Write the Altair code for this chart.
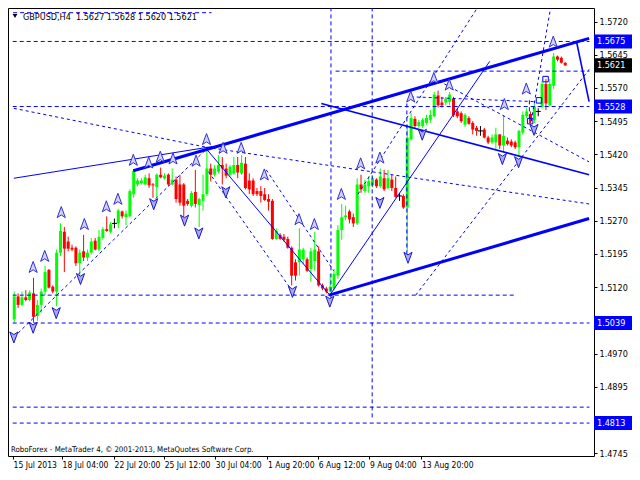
import altair as alt
import pandas as pd

# ---------------- candle data (GBPUSD H4) ----------------
opens = [1.5047,1.5099,1.5080,1.5097,1.5091,1.5106,1.5055,1.5080,1.5110,1.5159,
         1.5121,1.5110,1.5198,1.5245,1.5223,1.5209,1.5209,1.5174,1.5201,1.5187,
         1.5198,1.5225,1.5205,1.5231,1.5251,1.5245,1.5264,1.5264,1.5291,1.5278,
         1.5280,1.5330,1.5352,1.5355,1.5352,1.5366,1.5352,1.5346,1.5374,1.5366,
         1.5374,1.5352,1.5363,1.5352,1.5352,1.5315,1.5304,1.5335,1.5306,1.5315,
         1.5330,1.5388,1.5374,1.5381,1.5396,1.5388,1.5374,1.5377,1.5396,1.5377,
         1.5399,1.5361,1.5361,1.5337,1.5337,1.5330,1.5319,1.5315,1.5229,1.5238,
         1.5234,1.5229,1.5209,1.5176,1.5176,1.5183,1.5183,1.5161,1.5179,1.5201,
         1.5124,1.5117,1.5110,1.5117,1.5146,1.5249,1.5278,1.5291,1.5278,1.5264,
         1.5352,1.5337,1.5348,1.5350,1.5363,1.5348,1.5366,1.5344,1.5363,1.5344,
         1.5326,1.5326,1.5300,1.5454,1.5500,1.5484,1.5484,1.5491,1.5498,1.5506,
         1.5553,1.5537,1.5537,1.5539,1.5546,1.5517,1.5513,1.5487,1.5502,1.5491,
         1.5480,1.5473,1.5476,1.5458,1.5447,1.5447,1.5465,1.5440,1.5451,1.5449,
         1.5447,1.5436,1.5469,1.5506,1.5511,1.5498,1.5517,1.5528,1.5579,1.5531,
         1.5575,1.5641,1.5638,1.5627]
highs = [1.5110,1.5106,1.5110,1.5113,1.5113,1.5141,1.5091,1.5117,1.5168,1.5161,
         1.5124,1.5205,1.5264,1.5256,1.5234,1.5216,1.5212,1.5205,1.5238,1.5205,
         1.5231,1.5231,1.5249,1.5256,1.5280,1.5267,1.5275,1.5297,1.5293,1.5293,
         1.5341,1.5385,1.5366,1.5366,1.5374,1.5377,1.5355,1.5377,1.5390,1.5377,
         1.5377,1.5388,1.5370,1.5374,1.5355,1.5319,1.5337,1.5385,1.5322,1.5374,
         1.5432,1.5399,1.5396,1.5418,1.5414,1.5399,1.5396,1.5414,1.5414,1.5418,
         1.5414,1.5377,1.5366,1.5344,1.5348,1.5344,1.5330,1.5319,1.5253,1.5242,
         1.5240,1.5234,1.5212,1.5183,1.5253,1.5209,1.5187,1.5209,1.5245,1.5212,
         1.5128,1.5121,1.5150,1.5161,1.5260,1.5308,1.5304,1.5295,1.5286,1.5366,
         1.5374,1.5363,1.5370,1.5370,1.5366,1.5388,1.5385,1.5385,1.5374,1.5370,
         1.5333,1.5330,1.5487,1.5513,1.5506,1.5498,1.5502,1.5509,1.5520,1.5561,
         1.5564,1.5550,1.5550,1.5561,1.5550,1.5524,1.5517,1.5513,1.5506,1.5495,
         1.5484,1.5484,1.5480,1.5462,1.5465,1.5480,1.5465,1.5509,1.5458,1.5454,
         1.5451,1.5476,1.5517,1.5524,1.5517,1.5535,1.5524,1.5586,1.5590,1.5590,
         1.5649,1.5643,1.5641,1.5628]
lows = [1.5040,1.5073,1.5077,1.5088,1.5088,1.5040,1.5044,1.5062,1.5102,1.5117,
        1.5106,1.5077,1.5190,1.5154,1.5201,1.5201,1.5168,1.5146,1.5179,1.5179,
        1.5194,1.5203,1.5201,1.5227,1.5245,1.5242,1.5253,1.5253,1.5275,1.5260,
        1.5278,1.5322,1.5348,1.5352,1.5350,1.5344,1.5322,1.5322,1.5366,1.5363,
        1.5348,1.5350,1.5311,1.5304,1.5264,1.5304,1.5300,1.5300,1.5256,1.5293,
        1.5326,1.5359,1.5370,1.5377,1.5352,1.5366,1.5370,1.5374,1.5366,1.5374,
        1.5341,1.5330,1.5326,1.5326,1.5311,1.5315,1.5293,1.5227,1.5227,1.5227,
        1.5223,1.5207,1.5124,1.5135,1.5146,1.5172,1.5154,1.5132,1.5157,1.5121,
        1.5113,1.5106,1.5108,1.5113,1.5139,1.5227,1.5271,1.5264,1.5256,1.5260,
        1.5333,1.5333,1.5333,1.5346,1.5344,1.5344,1.5337,1.5341,1.5337,1.5322,
        1.5315,1.5297,1.5201,1.5451,1.5480,1.5480,1.5480,1.5487,1.5491,1.5504,
        1.5526,1.5526,1.5531,1.5531,1.5504,1.5502,1.5491,1.5482,1.5487,1.5465,
        1.5462,1.5462,1.5456,1.5443,1.5443,1.5432,1.5432,1.5425,1.5440,1.5436,
        1.5432,1.5414,1.5465,1.5502,1.5491,1.5491,1.5506,1.5524,1.5520,1.5528,
        1.5568,1.5630,1.5625,1.5620]
closes = [1.5099,1.5080,1.5097,1.5091,1.5108,1.5053,1.5080,1.5110,1.5154,1.5119,
          1.5110,1.5198,1.5247,1.5207,1.5207,1.5205,1.5174,1.5198,1.5187,1.5198,
          1.5223,1.5205,1.5234,1.5251,1.5247,1.5262,1.5264,1.5293,1.5280,1.5286,
          1.5337,1.5383,1.5361,1.5361,1.5368,1.5350,1.5350,1.5374,1.5368,1.5372,
          1.5352,1.5363,1.5319,1.5311,1.5304,1.5308,1.5333,1.5308,1.5319,1.5330,
          1.5388,1.5374,1.5388,1.5396,1.5388,1.5372,1.5392,1.5396,1.5379,1.5401,
          1.5344,1.5341,1.5330,1.5330,1.5326,1.5317,1.5313,1.5229,1.5247,1.5229,
          1.5227,1.5209,1.5146,1.5146,1.5205,1.5205,1.5157,1.5201,1.5205,1.5124,
          1.5117,1.5110,1.5121,1.5150,1.5249,1.5278,1.5282,1.5273,1.5264,1.5352,
          1.5341,1.5352,1.5359,1.5366,1.5348,1.5370,1.5341,1.5366,1.5344,1.5324,
          1.5326,1.5300,1.5458,1.5502,1.5484,1.5493,1.5498,1.5502,1.5509,1.5555,
          1.5531,1.5531,1.5546,1.5555,1.5509,1.5506,1.5495,1.5509,1.5489,1.5476,
          1.5473,1.5473,1.5458,1.5447,1.5458,1.5465,1.5440,1.5462,1.5443,1.5440,
          1.5436,1.5473,1.5509,1.5517,1.5495,1.5528,1.5517,1.5579,1.5535,1.5579,
          1.5641,1.5634,1.5627,1.5621]

# ---------------- axis ticks ----------------
xtick_pos = [-0.3, 12.4, 25.9, 38.9, 52.2, 65.7, 78.9, 92.2, 105.7]
xtick_lab = ["15 Jul 2013", "18 Jul 04:00", "22 Jul 20:00", "25 Jul 12:00", "30 Jul 04:00",
             "1 Aug 20:00", "6 Aug 12:00", "9 Aug 04:00", "13 Aug 20:00"]
ytick_vals = [1.5720, 1.5645, 1.5570, 1.5495, 1.5420, 1.5345, 1.5270, 1.5195,
              1.5120, 1.5045, 1.4970, 1.4895, 1.4820, 1.4745]
ytick_hidden = [1.5045, 1.4820]   # covered by the price tags

# ---------------- drawn objects ----------------
hl_price = [1.5740, 1.5675, 1.5608, 1.5528, 1.5102, 1.5039, 1.4849, 1.4813]
hl_from  = [-0.3, -0.4, 83.4, -0.4, -0.4, -0.4, -0.4, -0.4]
hl_to    = [51.2, 149.3, 149.3, 149.3, 130.4, 149.3, 149.3, 149.3]
vl_bar = [82.2, 92.9, 101.9, 133.7]
vl_top = [1.5752, 1.5752, 1.5535, 1.5542]
vl_bot = [1.5095, 1.4820, 1.5187, 1.5491]
thick_lines = [(30.9, 1.5383, 149.2, 1.5682), (81.7, 1.5102, 149.2, 1.5275)]
mid_lines   = [(79.7, 1.5535, 149.2, 1.5374), (145.9, 1.5676, 149.2, 1.5539)]
thin_lines  = [(-0.1, 1.5366, 51.7, 1.5438), (49.9, 1.5432, 81.9, 1.5102),
               (81.9, 1.5102, 123.4, 1.5630)]
dash_lines  = [(-0.1, 1.5524, 49.9, 1.5436), (49.9, 1.5436, 149.2, 1.5308),
               (-0.1, 1.5007, 49.9, 1.5432), (50.4, 1.5381, 72.9, 1.5102),
               (65.4, 1.5385, 82.9, 1.5157), (108.9, 1.5592, 149.2, 1.5403),
               (104.2, 1.5102, 149.2, 1.5612), (89.2, 1.5330, 120.2, 1.5751),
               (102.9, 1.5550, 135.4, 1.5539), (134.2, 1.5495, 139.2, 1.5751)]
up_bar   = [4.9, 7.9, 12.2, 18.2, 23.9, 26.9, 30.9, 34.9, 37.9, 41.2, 47.2, 49.9, 54.2,
            58.9, 64.9, 73.9, 77.9, 84.9, 89.9, 94.9, 102.9, 108.9, 112.9, 127.2, 132.9, 139.9]
up_price = [1.5165, 1.5190, 1.5289, 1.5262, 1.5302, 1.5319, 1.5407, 1.5401, 1.5414, 1.5410,
            1.5405, 1.5454, 1.5434, 1.5434, 1.5374, 1.5273, 1.5262, 1.5330, 1.5399, 1.5412,
            1.5550, 1.5592, 1.5577, 1.5533, 1.5568, 1.5674]
dn_bar   = [-0.1, 4.9, 10.9, 17.2, 36.2, 44.2, 47.9, 54.9, 72.2, 81.9, 94.9, 102.2,
            105.9, 126.7, 130.9, 134.9]
dn_price = [1.5007, 1.5029, 1.5062, 1.5139, 1.5308, 1.5271, 1.5242, 1.5335, 1.5110, 1.5088,
            1.5311, 1.5187, 1.5465, 1.5410, 1.5403, 1.5476]
sq_bar   = [133.9, 136.2, 137.9]
sq_price = [1.5495, 1.5542, 1.5590]
tag_price = [1.5675, 1.5528, 1.5039, 1.4813, 1.5621]
tag_color = ["#0000ff", "#0000ff", "#0000ff", "#0000ff", "#000000"]

title_text = "GBPUSD,H4\u00a0 1.5627 1.5628 1.5620 1.5621"
copyright_text = "RoboForex - MetaTrader 4, \u00a9 2001-2013, MetaQuotes Software Corp."

# ---------------- build ----------------
FONT = "'DejaVu Sans Condensed', 'Liberation Sans', sans-serif"
W, H = 586, 448
XDOM = [-0.325, 149.175]
YDOM = [1.47386, 1.57506]

def dirn(o, c):
    return "up" if c > o else ("down" if c < o else "doji")

candles = pd.DataFrame({"bar": list(range(len(opens))), "open": opens, "high": highs,
                        "low": lows, "close": closes})
candles["dir"] = [dirn(o, c) for o, c in zip(opens, closes)]

xs = alt.Scale(domain=XDOM, nice=False, zero=False)
ys = alt.Scale(domain=YDOM, nice=False, zero=False)
col = alt.Color("dir:N", scale=alt.Scale(domain=["up", "down", "doji"],
                range=["#00ff00", "#ff0000", "#000000"]), legend=None)

x_label_expr = "{}[indexof({}, datum.value)]".format(
    "[" + ",".join("'%s'" % s for s in xtick_lab) + "]",
    "[" + ",".join(str(v) for v in xtick_pos) + "]")
y_label_expr = "indexof({}, datum.value) >= 0 ? '' : format(datum.value, '.4f')".format(
    "[" + ",".join(str(v) for v in ytick_hidden) + "]")

X_AXIS = alt.Axis(values=xtick_pos, labelExpr=x_label_expr,
                  title=None, grid=False, domain=False, tickSize=3, tickColor="black",
                  labelAlign="left", labelPadding=1, labelOverlap=False, labelFlush=False,
                  labelBound=False, labelFont=FONT, labelFontSize=8.5, labelColor="black")
Y_AXIS = alt.Axis(orient="right", values=ytick_vals, labelExpr=y_label_expr,
                  title=None, grid=False, domain=False, tickSize=3, tickColor="black",
                  labelPadding=2, labelFont=FONT, labelFontSize=9, labelColor="black",
                  labelOverlap=False, labelFlush=False, labelBound=False)

def X(field):
    return alt.X(field, scale=xs, axis=X_AXIS)

def Y(field):
    return alt.Y(field, scale=ys, axis=Y_AXIS)

base = alt.Chart(candles)

wicks = base.mark_rule(strokeWidth=1).encode(
    x=X("bar:Q"), y=Y("low:Q"), y2="high:Q", color=col)
bodies = base.transform_filter("datum.dir != 'doji'").mark_bar(size=3).encode(
    x=X("bar:Q"), y=Y("open:Q"), y2="close:Q", color=col)
dojis = base.transform_filter("datum.dir == 'doji'").mark_point(
    shape="M-1,0L1,0", size=25, filled=False, color="black", strokeWidth=1, opacity=1).encode(
    x=X("bar:Q"), y=Y("open:Q"))

hl_df = pd.DataFrame({"p": hl_price, "a": hl_from, "b": hl_to})
hlines = alt.Chart(hl_df).mark_rule(color="#0000ff", strokeDash=[4, 3], strokeWidth=1, clip=True).encode(
    x=X("a:Q"), x2="b:Q", y=Y("p:Q"))
vl_df = pd.DataFrame({"b": vl_bar, "t": vl_top, "u": vl_bot})
vlines = alt.Chart(vl_df).mark_rule(color="#0000ff", strokeDash=[4, 3], strokeWidth=1, clip=True).encode(
    x=X("b:Q"), y=Y("t:Q"), y2="u:Q")

def seg_layer(segs, **kw):
    df = pd.DataFrame(segs, columns=["x1", "y1", "x2", "y2"])
    return alt.Chart(df).mark_rule(color="#0000ff", clip=True, **kw).encode(
        x=X("x1:Q"), y=Y("y1:Q"), x2="x2:Q", y2="y2:Q")

thick = seg_layer(thick_lines, strokeWidth=3)
mid = seg_layer(mid_lines, strokeWidth=1.6)
thin = seg_layer(thin_lines, strokeWidth=1)
dashed = seg_layer(dash_lines, strokeWidth=1, strokeDash=[3, 3])

UP = "M0,-1L0.7,0.9L0,0.45L-0.7,0.9Z"
DN = "M0,1L0.7,-0.9L0,-0.45L-0.7,-0.9Z"
ups = alt.Chart(pd.DataFrame({"b": up_bar, "p": up_price})).mark_point(
    shape=UP, size=135, filled=True, fill="#d2d2ff", stroke="#3030d0", strokeWidth=1, opacity=1).encode(
    x=X("b:Q"), y=Y("p:Q"))
dns = alt.Chart(pd.DataFrame({"b": dn_bar, "p": dn_price})).mark_point(
    shape=DN, size=135, filled=True, fill="#a8a8ff", stroke="#1a1ab8", strokeWidth=1, opacity=1).encode(
    x=X("b:Q"), y=Y("p:Q"))
sqs = alt.Chart(pd.DataFrame({"b": sq_bar, "p": sq_price})).mark_point(
    shape="square", size=30, filled=False, color="#0000ff", strokeWidth=1, opacity=1).encode(
    x=X("b:Q"), y=Y("p:Q"))

tag_df = pd.DataFrame({"p": tag_price, "c": tag_color})
tags = alt.Chart(tag_df).mark_point(shape="M-1,-0.37L1,-0.37L1,0.37L-1,0.37Z", size=1444,
    filled=True, opacity=1, clip=False).encode(
    x=alt.value(W + 19), y=Y("p:Q"), fill=alt.Fill("c:N", scale=None))
tag_txt = alt.Chart(tag_df).mark_text(align="left", baseline="middle", font=FONT, fontSize=9,
    color="white", clip=False).encode(
    x=alt.value(W + 3), y=Y("p:Q"), text=alt.Text("p:Q", format=".4f"))

title_df = pd.DataFrame({"t": [title_text]})
title = alt.Chart(title_df).mark_text(align="left", baseline="middle", font=FONT, fontSize=9,
    color="black").encode(x=alt.value(15), y=alt.value(9), text="t:N")
tri = alt.Chart(title_df).mark_point(shape="triangle-down", size=22, filled=True, color="black",
    opacity=1).encode(x=alt.value(7), y=alt.value(8))
copy_df = pd.DataFrame({"t": [copyright_text]})
copyr = alt.Chart(copy_df).mark_text(align="left", baseline="middle", font=FONT, fontSize=7.8,
    color="black").encode(x=alt.value(3), y=alt.value(H - 6), text="t:N")

chart = alt.layer(wicks, bodies, dojis, hlines, vlines, thick, mid, thin, dashed,
                  ups, dns, sqs, tags, tag_txt, title, tri, copyr).properties(
    width=W, height=H,
    padding={"left": 0, "top": 0, "right": 38, "bottom": 14},
    autosize=alt.AutoSizeParams(type="none"),
    background="white",
).configure_view(stroke="black", strokeWidth=1)

chart.save("out.html", embed_options={"renderer": "svg", "actions": False})
